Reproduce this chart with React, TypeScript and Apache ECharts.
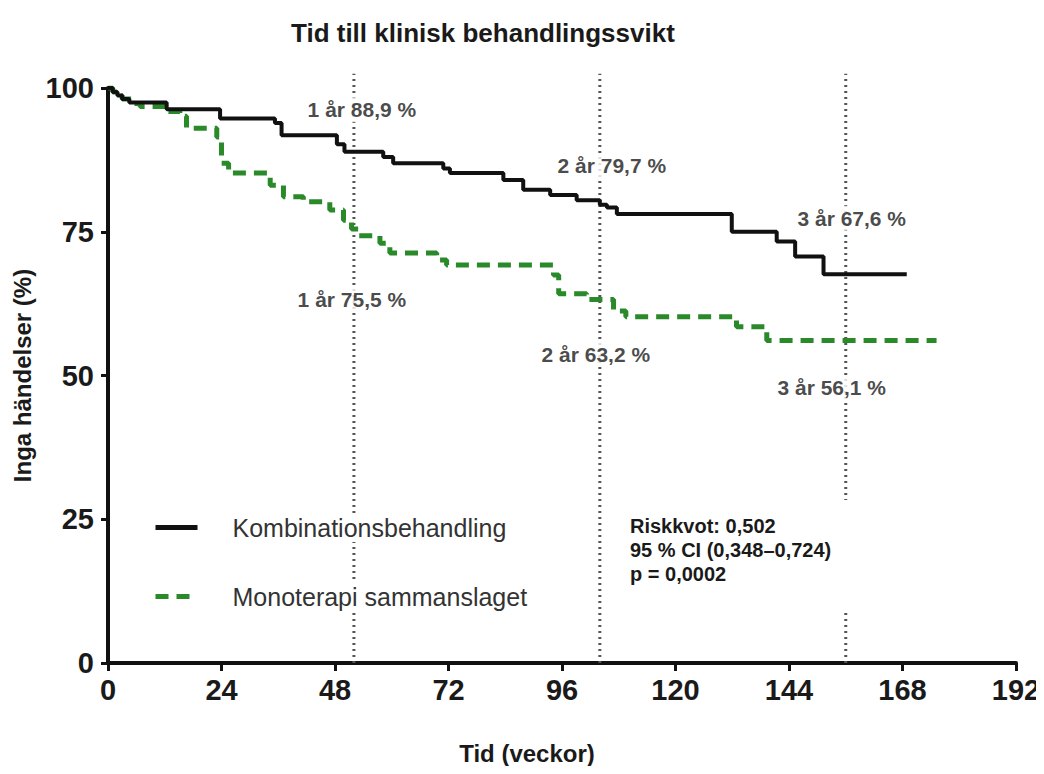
import React, { useEffect, useRef } from "react";
import * as echarts from "echarts";

// ---- Data ----
const xTicks = [0, 24, 48, 72, 96, 120, 144, 168, 192];
const yTicks = [0, 25, 50, 75, 100];

const comboName = "Kombinationsbehandling";
const monoName = "Monoterapi sammanslaget";

// Kaplan-Meier steps: [week, % event-free]
const comboCurve: [number, number][] = [
  [0, 100], [1, 99.3], [2, 98.7], [3, 98.1], [4.5, 97.5], [12.4, 96.3],
  [23.7, 94.7], [35.3, 93.9], [36.7, 91.8], [48.4, 90.2], [50, 88.9],
  [58.2, 88.0], [60.3, 86.9], [70.9, 86.0], [72.3, 85.2], [83.6, 84.0],
  [87.8, 82.3], [93.5, 81.4], [99.1, 80.5], [104, 79.7], [105.5, 79.2],
  [107.6, 78.1], [131.9, 75.0], [141.4, 73.3], [145.3, 70.7], [151.3, 67.6],
  [168.9, 67.6],
];

const monoCurve: [number, number][] = [
  [0, 100], [1, 99.3], [2, 98.7], [3, 98.1], [5.3, 97.3], [6.8, 96.8],
  [12.4, 95.9], [15.2, 95.1], [16.6, 93.0], [23.0, 91.5], [24.0, 86.9],
  [25.5, 85.2], [34.3, 83.1], [37.1, 81.1], [41.3, 80.2], [46.9, 78.8],
  [49.8, 77.0], [51.5, 75.5], [53, 74.3], [57.5, 73.0], [59.6, 71.3],
  [69.5, 70.1], [71.6, 69.2], [94.2, 67.5], [95.3, 64.2], [101.2, 63.2],
  [106.9, 61.2], [109.5, 60.2], [132.9, 58.5], [139.3, 56.1], [175.2, 56.1],
];

const milestoneWeeks = [52, 104, 156];
const milestoneYears = [1, 2, 3];
const comboMilestones = [88.9, 79.7, 67.6];
const monoMilestones = [75.5, 63.2, 56.1];
const milestoneLineTop = 102.5;

const statsLines = ["Riskkvot: 0,502", "95 % CI (0,348–0,724)", "p = 0,0002"];

// ---- Styles (pixel offsets of annotation labels) ----
const comboLabelOffsets = [[8, -42], [12, -39], [6, -56]];
const monoLabelOffsets = [[-2, 71], [-4, 55], [-14, 47]];

const FONT = '"Liberation Sans", Arial, Helvetica, sans-serif';
const GREEN = "#2a8a2a";

const fmt = (yr: number, v: number) =>
  `${yr} år ${v.toFixed(1).replace(".", ",")} %`;

export default function App() {
  const ref = useRef<HTMLDivElement>(null);

  useEffect(() => {
    if (!ref.current) return;
    const chart = echarts.init(ref.current, undefined, { renderer: "svg" });

    const annotationLabel = {
      show: true,
      position: "inside",
      fontFamily: FONT,
      fontWeight: "bold",
      fontSize: 21,
      color: "#1a1a1a",
      backgroundColor: "#fff",
      padding: [2, 3],
    };

    const option: any = {
      animation: false,
      backgroundColor: "#fff",
      title: {
        text: "Tid till klinisk behandlingssvikt",
        left: 286,
        top: 15,
        textStyle: { fontFamily: FONT, fontWeight: "bold", fontSize: 26, color: "#1a1a1a" },
      },
      grid: { left: 108, right: 28, top: 88, bottom: 111, containLabel: false },
      legend: {
        orient: "vertical",
        left: 148,
        top: 508,
        itemWidth: 42,
        itemHeight: 26,
        itemGap: 40,
        data: [comboName, monoName],
        itemStyle: { opacity: 0 },
        lineStyle: { width: 5 },
        textStyle: {
          fontFamily: FONT,
          fontSize: 25,
          color: "#333",
          backgroundColor: "#fff",
          padding: [2, 4, 2, 30],
        },
        selectedMode: false,
      },
      xAxis: {
        type: "value",
        min: 0,
        max: 192,
        interval: 24,
        name: "Tid (veckor)",
        nameLocation: "middle",
        nameGap: 78,
        nameTextStyle: {
          fontFamily: FONT, fontWeight: "bold", fontSize: 24, color: "#1a1a1a",
          padding: [0, 70, 0, 0],
        },
        axisLine: { show: true, lineStyle: { color: "#111", width: 4 } },
        axisTick: { show: true, length: 8, lineStyle: { color: "#111", width: 3 } },
        axisLabel: {
          margin: 12,
          fontFamily: FONT, fontWeight: "bold", fontSize: 29, color: "#1a1a1a",
          formatter: (v: number) => (xTicks.includes(v) ? String(v) : ""),
        },
        splitLine: { show: false },
      },
      yAxis: {
        type: "value",
        min: 0,
        max: 100,
        interval: 25,
        name: "Inga händelser (%)",
        nameLocation: "middle",
        nameGap: 64,
        nameTextStyle: { fontFamily: FONT, fontWeight: "bold", fontSize: 24, color: "#1a1a1a" },
        axisLine: { show: true, lineStyle: { color: "#111", width: 4 } },
        axisTick: { show: true, length: 7, lineStyle: { color: "#111", width: 3 } },
        axisLabel: {
          margin: 14,
          fontFamily: FONT, fontWeight: "bold", fontSize: 29, color: "#1a1a1a",
          formatter: (v: number) => (yTicks.includes(v) ? String(v) : ""),
        },
        splitLine: { show: false },
      },
      series: [
        ...milestoneWeeks.map((w) => ({
          type: "line",
          name: "milestone" + w,
          data: [[w, 0], [w, milestoneLineTop]],
          symbol: "none",
          clip: false,
          silent: true,
          z: 1,
          lineStyle: { color: "#555", width: 3, type: [2, 4] },
        })),
        {
          type: "line",
          name: monoName,
          data: monoCurve,
          step: "end",
          symbol: "none",
          z: 3,
          itemStyle: { color: GREEN },
          lineStyle: { color: GREEN, width: 5, type: [13, 8] },
        },
        {
          type: "line",
          name: comboName,
          data: comboCurve,
          step: "end",
          symbol: "none",
          z: 4,
          itemStyle: { color: "#111" },
          lineStyle: { color: "#111", width: 4 },
        },
        {
          type: "scatter",
          name: "annotations",
          symbolSize: 1,
          z: 10,
          silent: true,
          itemStyle: { color: "rgba(0,0,0,0)" },
          label: annotationLabel,
          data: [
            ...milestoneWeeks.map((w, i) => ({
              value: [w, comboMilestones[i]],
              label: { offset: comboLabelOffsets[i], formatter: fmt(milestoneYears[i], comboMilestones[i]) },
            })),
            ...milestoneWeeks.map((w, i) => ({
              value: [w, monoMilestones[i]],
              label: { offset: monoLabelOffsets[i], formatter: fmt(milestoneYears[i], monoMilestones[i]) },
            })),
          ],
        },
      ],
      graphic: [
        {
          type: "text",
          x: 626,
          y: 500,
          z: 100,
          style: {
            text: statsLines.join("\n"),
            font: `bold 20px ${FONT}`,
            lineHeight: 24,
            fill: "#1a1a1a",
            backgroundColor: "#fff",
            padding: [14, 40, 26, 4],
          },
        },
      ],
    };

    chart.setOption(option);
    return () => chart.dispose();
  }, []);

  return <div ref={ref} style={{ width: 1044, height: 774, margin: -8 }} />;
}
